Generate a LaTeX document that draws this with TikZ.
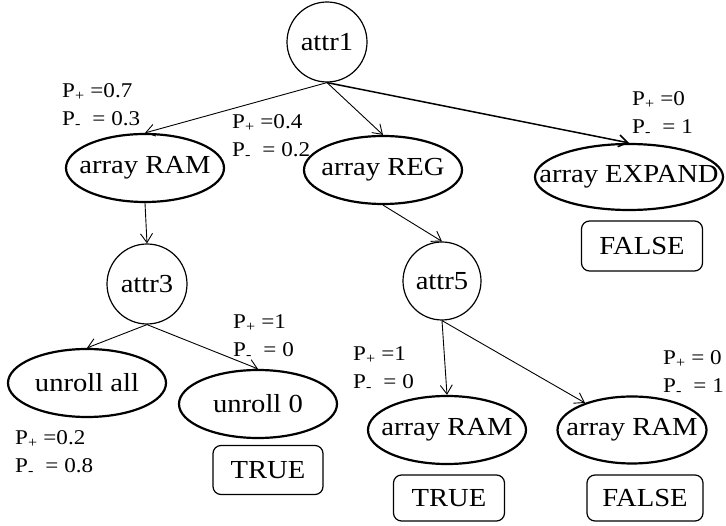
\documentclass[tikz,border=0pt]{standalone}
\usepackage{fontspec}
\setmainfont{Liberation Serif}[FakeStretch=1.1]
\usetikzlibrary{shapes.geometric,arrows.meta}

\begin{document}
\begin{tikzpicture}[node distance=100pt]
    \tikzset{
        every node/.style={font=\fontsize{26}{30}\selectfont, inner sep=0pt},
        attr/.style={draw, circle, line width=1.2pt, minimum size=80pt},
        val/.style={draw, ellipse, line width=2.2pt, inner xsep=-40pt, minimum width=158pt, minimum height=68pt},
        leaf/.style={draw, rounded corners=8pt, line width=1.2pt, minimum width=112pt, minimum height=47pt},
        prob/.style={font=\fontsize{21}{27.5}\selectfont, align=left, anchor=west},
        branch/.style={-{Straight Barb[length=9pt,width=12pt]}, line width=0.9pt}
        }
    \useasboundingbox (0,0) rectangle (726pt,-526pt);

    %root
    \node (attr1) [attr] at (327pt,-42pt) {attr1};

    %first level
    \node (ramA) [val, below of=attr1, xshift=-182pt, yshift=-26pt] {array RAM};
    \node (reg) [val, below of=attr1, xshift=56pt, yshift=-28pt] {array REG};
    \node (expand) [val, minimum width=188pt, minimum height=66pt, below of=attr1, xshift=302pt, yshift=-35pt] {array EXPAND};
    \node (falseA) [leaf, minimum width=121pt, minimum height=50pt, below of=expand, xshift=13pt, yshift=31pt] {FALSE};

    %second level
    \node (attr3) [attr, below of=ramA, xshift=2pt, yshift=-16pt] {attr3};
    \node (attr5) [attr, minimum size=78pt, below of=reg, xshift=59pt, yshift=-11pt] {attr5};

    %leaves under attr3
    \node (unrollall) [val, below of=attr3, xshift=-60pt, yshift=1pt] {unroll all};
    \node (unroll0) [val, below of=attr3, xshift=111pt, yshift=-20pt] {unroll 0};
    \node (trueA) [leaf, minimum width=110pt, minimum height=49pt, below of=unroll0, xshift=10pt, yshift=34pt] {TRUE};

    %leaves under attr5
    \node (ramB) [val, below of=attr5, xshift=5pt, yshift=-49pt] {array RAM};
    \node (ramC) [val, minimum width=149pt, minimum height=67pt, below of=attr5, xshift=190pt, yshift=-49pt] {array RAM};
    \node (trueB) [leaf, minimum width=111pt, minimum height=46pt, below of=ramB, xshift=2pt, yshift=32pt] {TRUE};
    \node (falseB) [leaf, minimum width=116pt, minimum height=46pt, below of=ramC, xshift=13pt, yshift=32pt] {FALSE};

    %probabilities
    \node (pA) [above of=ramA, xshift=-83pt, yshift=-38pt, prob] {P\textsubscript{+} =0.7\\P\textsubscript{-}\ \ = 0.3};
    \node (pB) [above of=reg, xshift=-151pt, yshift=-67pt, prob] {P\textsubscript{+} =0.4\\P\textsubscript{-}\ \ = 0.2};
    \node (pC) [above of=expand, xshift=3pt, yshift=-37pt, prob] {P\textsubscript{+} =0\\P\textsubscript{-}\ \ = 1};
    \node (pD) [above of=unroll0, xshift=-25pt, yshift=-33pt, prob] {P\textsubscript{+} =1\\P\textsubscript{-}\ \ = 0};
    \node (pE) [below of=unrollall, xshift=-72pt, yshift=30pt, prob] {P\textsubscript{+} =0.2\\P\textsubscript{-}\ \ = 0.8};
    \node (pF) [above of=ramB, xshift=-94pt, yshift=-39pt, prob] {P\textsubscript{+} =1\\P\textsubscript{-}\ \ = 0};
    \node (pG) [above of=ramC, xshift=31pt, yshift=-43pt, prob] {P\textsubscript{+} = 0\\P\textsubscript{-}\ \ = 1};

    \draw[branch] (attr1.south) -- (ramA.north);
    \draw[branch] (attr1.south) -- (reg.north);
    \draw[branch, line width=1.5pt] (attr1.south) -- (expand.north);

    \draw[branch] (ramA.south) -- (attr3.north);
    \draw[branch] (reg.south) -- (attr5.north);

    \draw[branch] (attr3.south) -- (unrollall.north);
    \draw[branch] (attr3.south) -- (unroll0.north);

    \draw[branch] (attr5.south) -- (ramB.north);
    \draw[branch] (attr5.south) -- (ramC);
\end{tikzpicture}
\end{document}
